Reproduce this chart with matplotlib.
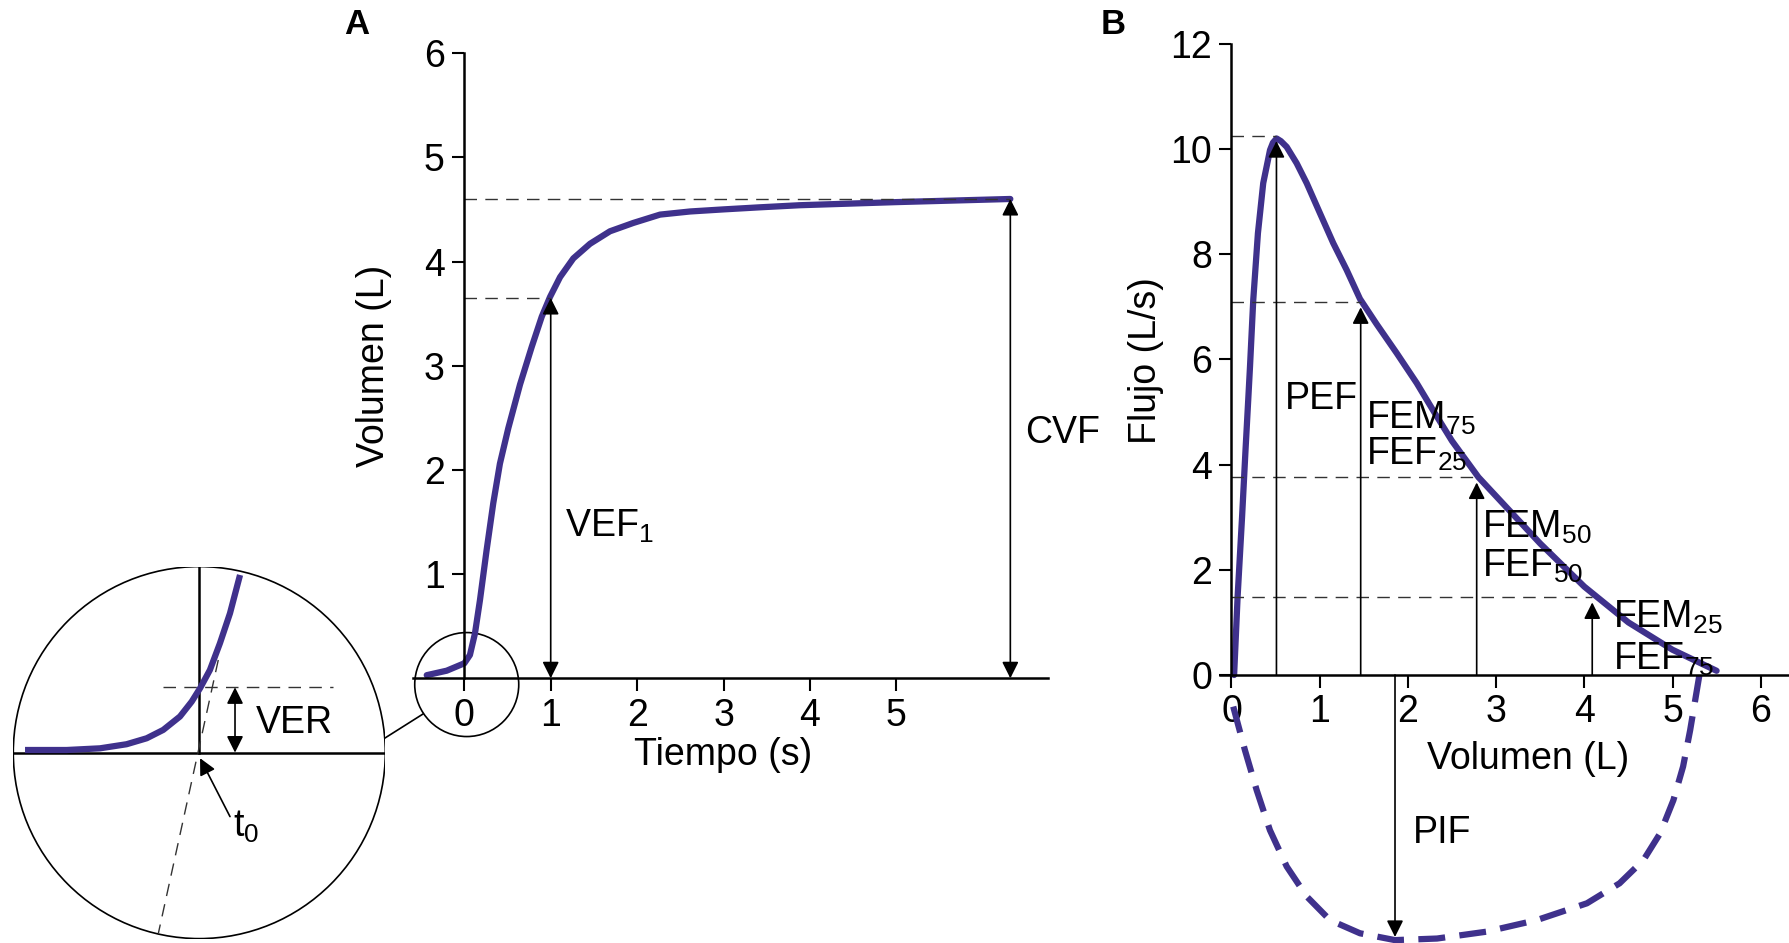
import numpy as np
import matplotlib.pyplot as plt
from matplotlib.patches import Circle, Ellipse
from matplotlib.lines import Line2D

plt.rcParams['font.family'] = ['Liberation Sans', 'DejaVu Sans']
plt.rcParams['mathtext.fontset'] = 'custom'
plt.rcParams['mathtext.rm'] = 'Liberation Sans'

PURPLE = '#3f318c'
FS = 27

# --- A: volume-time curve ---
time_a = [-0.435, -0.204, 0.0, 0.065, 0.123, 0.181, 0.258, 0.335, 0.412, 0.509, 0.645,
          0.78, 0.896, 0.992, 1.108, 1.262, 1.455, 1.686, 1.956, 2.265, 2.612, 2.998,
          3.42, 3.88, 5.0, 6.32]
vol_a = [0.03, 0.073, 0.144, 0.224, 0.43, 0.75, 1.23, 1.68, 2.06, 2.40, 2.82,
         3.18, 3.47, 3.66, 3.85, 4.03, 4.17, 4.29, 4.37, 4.45, 4.48, 4.50,
         4.52, 4.54, 4.57, 4.6]
vef1 = 3.65
cvf = 4.6
t_cvf = 6.32

# --- inset (zoomed start of curve, normalised units) ---
zoom_u = [-0.937, -0.713, -0.534, -0.391, -0.283, -0.194, -0.104, -0.041, 0.004,
          0.057, 0.111, 0.165, 0.219]
zoom_v = [0.014, 0.014, 0.023, 0.045, 0.077, 0.122, 0.194, 0.274, 0.346,
          0.444, 0.588, 0.749, 0.955]
ver = 0.351
tang_u = [0.102, -0.220]
tang_v = [0.498, -0.971]

# --- B: flow-volume loop ---
vol_exp = [0.03, 0.07, 0.12, 0.16, 0.19, 0.21, 0.247, 0.30, 0.36, 0.437, 0.47, 0.512,
           0.56, 0.626, 0.739, 0.853, 1.003, 1.154, 1.306, 1.457, 1.646, 1.873, 2.10,
           2.29, 2.5, 2.8, 3.0, 3.5, 4.0, 4.5, 5.0, 5.5]
flow_exp = [0.0, 1.5, 3.0, 4.3, 5.23, 5.86, 7.13, 8.4, 9.35, 9.98, 10.12, 10.2,
            10.15, 10.04, 9.73, 9.35, 8.78, 8.21, 7.70, 7.15, 6.67, 6.12, 5.55,
            5.02, 4.45, 3.76, 3.4, 2.5, 1.68, 1.0, 0.48, 0.08]
vol_ins = [0.02, 0.153, 0.286, 0.436, 0.626, 0.853, 1.117, 1.457, 1.854, 2.33, 2.89,
           3.46, 4.03, 4.40, 4.67, 4.86, 5.01, 5.12, 5.20, 5.27, 5.31]
flow_ins = [-0.60, -1.43, -2.19, -2.95, -3.64, -4.21, -4.66, -4.91, -5.04, -5.01, -4.88,
            -4.66, -4.34, -3.96, -3.52, -3.01, -2.38, -1.74, -1.05, -0.35, 0.05]
marks_v = [0.51, 1.465, 2.78, 4.09]
marks_f = [10.25, 7.09, 3.76, 1.48]
pif_v, pif_f = 1.854, -4.98

W, H = 1790, 943
fig = plt.figure(figsize=(W / 100, H / 100), dpi=100)


def rect(l, t, r, b):
    return [l / W, 1 - b / H, (r - l) / W, (b - t) / H]


def style_axes(ax, xt, yt, ytop):
    for s in ['top', 'right']:
        ax.spines[s].set_visible(False)
    ax.spines['left'].set_position(('data', 0))
    ax.spines['bottom'].set_position(('data', 0))
    ax.spines['left'].set_bounds(0, ytop)
    for s in ['left', 'bottom']:
        ax.spines[s].set_linewidth(1.8)
    ax.set_xticks(xt)
    ax.set_yticks(yt)
    ax.tick_params(direction='out', length=9, width=1.5, labelsize=FS, pad=5)
    ax.patch.set_alpha(0)


def arrow(ax, x0, y0, x1, y1, style='-|>'):
    ax.annotate('', xy=(x1, y1), xytext=(x0, y0),
                arrowprops=dict(arrowstyle=style, color='black', lw=1.2,
                                mutation_scale=25, shrinkA=0, shrinkB=0),
                annotation_clip=False)


dash_kw = dict(color='#333333', lw=1.0, dashes=(9, 6), clip_on=False)
curve_kw = dict(color=PURPLE, lw=4.5, solid_capstyle='round',
                solid_joinstyle='round', clip_on=False)

# ---------- panel A ----------
axA = fig.add_axes(rect(413, 53.1, 1048, 678.3))
axA.set_xlim(-0.594, 6.756)
axA.set_ylim(0, 6)
style_axes(axA, range(6), range(1, 7), 6)
axA.plot(time_a, vol_a, **curve_kw)
axA.plot([0, t_cvf], [cvf, cvf], **dash_kw)
axA.plot([0, 1], [vef1, vef1], **dash_kw)
arrow(axA, 1, 0, 1, vef1, '<|-|>')
arrow(axA, t_cvf, 0, t_cvf, cvf, '<|-|>')
axA.text(1.16, 1.46, r'VEF$_\mathregular{1}$', fontsize=FS, va='center')
axA.text(6.49, 2.35, 'CVF', fontsize=FS, va='center')
axA.text(3.0, -0.74, 'Tiempo (s)', fontsize=FS, ha='center', va='center')
axA.text(-1.04, 3.0, 'Volumen (L)', fontsize=FS, ha='center', va='center', rotation=90)
axA.add_patch(Ellipse((0.028, -0.06), 1.204, 0.998, fill=False, lw=1.2,
                      color='black', clip_on=False))
fig.text(357 / W, 1 - 25 / H, 'A', fontsize=25, fontweight='bold', ha='center', va='center')

# connector between circles
fig.add_artist(Line2D([385 / W, 423 / W], [1 - 738 / H, 1 - 714 / H], color='black', lw=1.2))

# ---------- inset ----------
axI = fig.add_axes(rect(13.3, 566.6, 385.3, 938.6))
axI.set_xlim(-1, 1)
axI.set_ylim(-1, 1)
axI.axis('off')
axI.add_patch(Circle((0, 0), 1, fill=False, lw=1.2, color='black'))
axI.plot([-1, 1], [0, 0], color='black', lw=1.8)
axI.plot([0, 0], [0, 1], color='black', lw=1.8)
axI.plot(tang_u, tang_v, **dash_kw)
axI.plot([-0.194, 0.72], [ver, ver], **dash_kw)
axI.plot(zoom_u, zoom_v, color=PURPLE, lw=4.5, solid_capstyle='butt', solid_joinstyle='round')
arrow(axI, 0.192, 0, 0.192, ver, '<|-|>')
axI.text(0.305, 0.158, 'VER', fontsize=FS, va='center')
arrow(axI, 0.165, -0.344, 0.004, -0.030)
axI.text(0.183, -0.398, r't$_\mathregular{0}$', fontsize=FS, va='center')

# ---------- panel B ----------
axB = fig.add_axes(rect(1220, 43.8, 1790, 945.9))
axB.set_xlim(-0.13, 6.332)
axB.set_ylim(-5.15, 12)
style_axes(axB, range(7), range(0, 13, 2), 12)
axB.plot(vol_exp, flow_exp, **curve_kw)
axB.plot(vol_ins, flow_ins, color=PURPLE, lw=4.5, dashes=(4.3, 2.3), clip_on=False)
for v, f in zip(marks_v, marks_f):
    axB.plot([0, v], [f, f], **dash_kw)
    arrow(axB, v, 0, v, f - 0.1)
arrow(axB, pif_v, 0, pif_v, pif_f)
axB.text(0.61, 5.24, 'PEF', fontsize=FS, va='center')
axB.text(1.52, 4.87, r'FEM$_\mathregular{75}$', fontsize=FS, va='center')
axB.text(1.52, 4.2, r'FEF$_\mathregular{25}$', fontsize=FS, va='center')
axB.text(2.84, 2.8, r'FEM$_\mathregular{50}$', fontsize=FS, va='center')
axB.text(2.84, 2.07, r'FEF$_\mathregular{50}$', fontsize=FS, va='center')
axB.text(4.32, 1.1, r'FEM$_\mathregular{25}$', fontsize=FS, va='center')
axB.text(4.32, 0.3, r'FEF$_\mathregular{75}$', fontsize=FS, va='center')
axB.text(2.06, -3.0, 'PIF', fontsize=FS, va='center')
axB.text(3.36, -1.6, 'Volumen (L)', fontsize=FS, ha='center', va='center')
axB.text(-0.97, 5.97, 'Flujo (L/s)', fontsize=FS, ha='center', va='center', rotation=90)
fig.text(1113 / W, 1 - 25 / H, 'B', fontsize=25, fontweight='bold', ha='center', va='center')

fig.savefig('out.png', dpi=100)
